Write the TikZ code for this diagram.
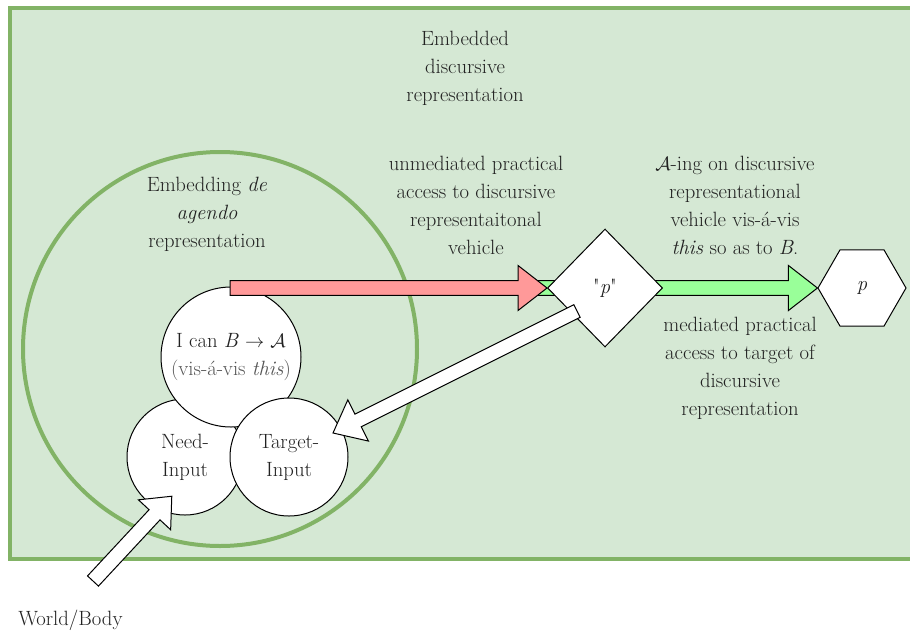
\documentclass[tikz,border=0pt]{standalone}
\usetikzlibrary{shapes.geometric,calc}
\definecolor{panelfill}{HTML}{D5E8D4}
\definecolor{panelline}{HTML}{82B366}
\definecolor{pinkfill}{HTML}{FF9999}
\definecolor{greenfill}{HTML}{99FF99}
\definecolor{inktext}{HTML}{222222}
\definecolor{softtext}{HTML}{555555}

\pgfdeclarelayer{back}
\pgfdeclarelayer{links}
\pgfsetlayers{back,links,main}

% Block arrow from #1 to #2, fill #3, shaft half-width #4, head half-width #5, head length #6
\newcommand{\blockarrow}[6]{%
  \draw[blockline, fill=#3] let \p1=(#1), \p2=(#2),
      \n1={atan2(\y2-\y1,\x2-\x1)}, \n2={veclen(\x2-\x1,\y2-\y1)} in
    [shift={(\p1)}, rotate=\n1]
    (0pt,-#4) -- (\n2-#6,-#4) -- (\n2-#6,-#5) -- (\n2,0pt)
    -- (\n2-#6,#5) -- (\n2-#6,#4) -- (0pt,#4) -- cycle;}

\begin{document}
\begin{tikzpicture}[x=0.75pt,y=-0.75pt,
  txt/.style={font=\fontsize{15.5}{21}\selectfont, text=inktext, align=center, inner sep=0pt},
  bubble/.style={circle, draw=black, line width=0.75pt, fill=white, inner sep=0pt,
    font=\fontsize{15.5}{21}\selectfont, text=inktext, align=center},
  shapeline/.style={draw=black, line width=0.75pt, fill=white, inner sep=0pt,
    font=\fontsize{15.5}{21}\selectfont, text=inktext},
  blockline/.style={draw=black, line width=0.75pt, line join=miter}]

\useasboundingbox (0,0) rectangle (910,632);

\begin{pgfonlayer}{back}
  % embedded discursive representation panel
  \begin{scope}
    \clip (0,0) rectangle (910,632);
    \draw[draw=panelline, fill=panelfill, line width=3pt] (10,8) rectangle (940,559);
  \end{scope}
  % embedding de agendo representation
  \node[circle, draw=panelline, line width=3pt, minimum size=295.5pt, inner sep=0pt] (agendo) at (220,349) {};
  \node[bubble, minimum size=87pt] (need) at (185,457) {Need-\\Input};
  \node[bubble, minimum size=105pt] (ability) at (231,357)
    {I can \textit{B} $\rightarrow$ $\mathcal{A}$\\{\color{softtext}(vis-á-vis \textit{this})}};
  \node[bubble, minimum size=88.5pt] (targetin) at (289,457) {Target-\\Input};
\end{pgfonlayer}

% vehicle and target of the discursive representation
\node[diamond, shapeline, minimum width=86.25pt, minimum height=88.5pt] (vehicle) at (605,288)
  {\textquotedbl\textit{p}\textquotedbl};
\node[regular polygon, regular polygon sides=6, shapeline, minimum size=66pt] (target) at (862,288) {\textit{p}};

% free ends of the connectors
\coordinate (pinktail) at (230,288);
\coordinate (greentail) at (530,288);
\coordinate (feedtail) at (577,311);
\coordinate (feedtip) at (333,433);
\coordinate (worldtail) at (93,581);
\coordinate (worldtip) at (172,496);

\begin{pgfonlayer}{links}
  \blockarrow{greentail}{target.west}{greenfill}{5.6pt}{16.9pt}{21.75pt}
  \blockarrow{pinktail}{vehicle.west}{pinkfill}{5.6pt}{16.9pt}{21.75pt}
\end{pgfonlayer}

\blockarrow{feedtail}{feedtip}{white}{5.25pt}{17.25pt}{21pt}
\blockarrow{worldtail}{worldtip}{white}{5.6pt}{16.5pt}{19pt}

% labels
\node[txt] (panellabel) at (465,68) {Embedded\\discursive\\representation};
\node[txt] (agendolabel) at (207,214) {Embedding \textit{de}\\\textit{agendo}\\representation};
\node[txt] (accesslabel) at (476,205) {unmediated practical\\access to discursive\\representaitonal\\vehicle};
\node[txt] (actlabel) at (735,205) {$\mathcal{A}$-ing on discursive\\representational\\vehicle vis-á-vis\\\textit{this} so as to \textit{B}.};
\node[txt] (mediatedlabel) at (740,368) {mediated practical\\access to target of\\discursive\\representation};
\node[txt, anchor=west] (world) at (18,620) {World/Body};
\end{tikzpicture}
\end{document}
